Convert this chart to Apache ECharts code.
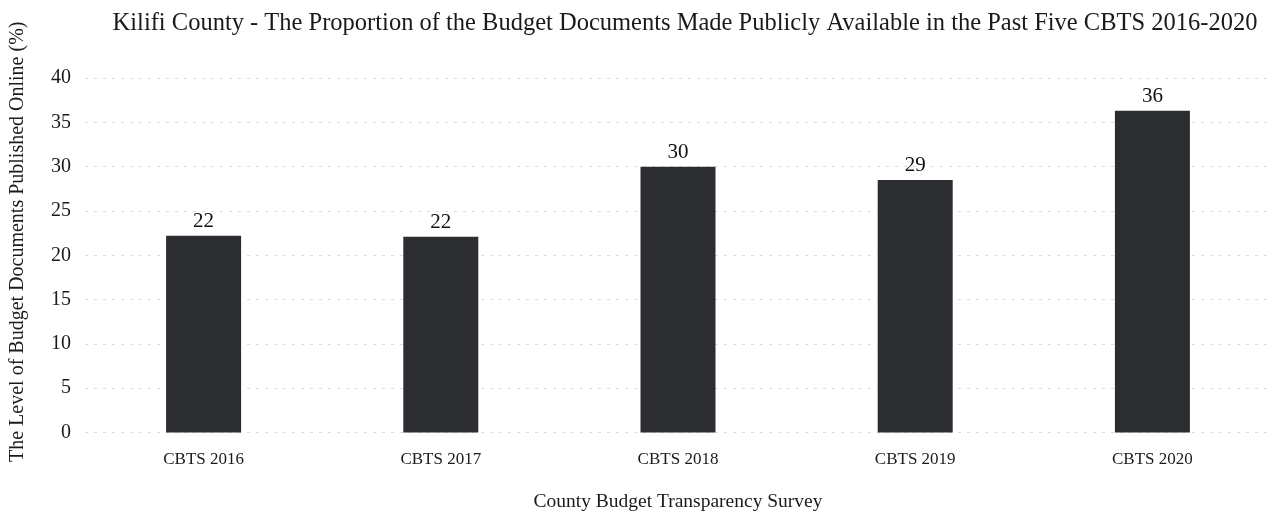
<!DOCTYPE html>
<html><head><meta charset="utf-8">
<script src="https://cdn.jsdelivr.net/npm/echarts@6/dist/echarts.min.js"></script>
<style>html,body{margin:0;padding:0;background:#fff}#c{width:1272px;height:516px}</style>
</head><body><div id="c"></div>
<script>
const categories = ['CBTS 2016','CBTS 2017','CBTS 2018','CBTS 2019','CBTS 2020'];
const values = [22.2, 22.1, 30, 28.5, 36.3];
const yTicks = {min: 0, max: 40, interval: 5};
const titleText = 'Kilifi County - The Proportion of the Budget Documents Made Publicly Available in the Past Five CBTS 2016-2020';
const yName = 'The Level of Budget Documents Published Online (%)';
const xName = 'County Budget Transparency Survey';

const F = '"Liberation Serif", "DejaVu Serif", serif';
const chart = echarts.init(document.getElementById('c'));
chart.setOption({
  backgroundColor: '#fff',
  animation: false,
  title: {text: titleText, left: 680, top: 6, textAlign: 'center',
    textStyle: {fontFamily: F, fontSize: 24.5, fontWeight: 'normal', color: '#1a1a1a'}},
  grid: {left: 85, right: 1, top: 78, bottom: 83.5, containLabel: false, outerBoundsMode: 'none'},
  xAxis: {type: 'category', data: categories,
    name: xName, nameLocation: 'middle', nameGap: 59,
    nameTextStyle: {fontFamily: F, fontSize: 19.5, color: '#1a1a1a', verticalAlign: 'top'},
    axisLine: {show: false}, axisTick: {show: false},
    axisLabel: {fontFamily: F, fontSize: 17, color: '#1a1a1a', margin: 19}},
  yAxis: {type: 'value', min: yTicks.min, max: yTicks.max, interval: yTicks.interval,
    name: yName, nameLocation: 'middle', nameGap: 57,
    nameTextStyle: {fontFamily: F, fontSize: 20, color: '#1a1a1a', padding: [0, 0, 0, 27]},
    axisLine: {show: false}, axisTick: {show: false},
    axisLabel: {fontFamily: F, fontSize: 20, color: '#1a1a1a', margin: 14},
    splitLine: {lineStyle: {color: '#dcdcdc', type: [3, 6], width: 1}}},
  series: [{type: 'bar', data: values, barWidth: 75,
    itemStyle: {color: '#2c2d31'},
    label: {show: true, position: 'top', distance: 4, fontFamily: F, fontSize: 21, color: '#111',
      formatter: p => Math.round(p.value)}}]
});
</script></body></html>
